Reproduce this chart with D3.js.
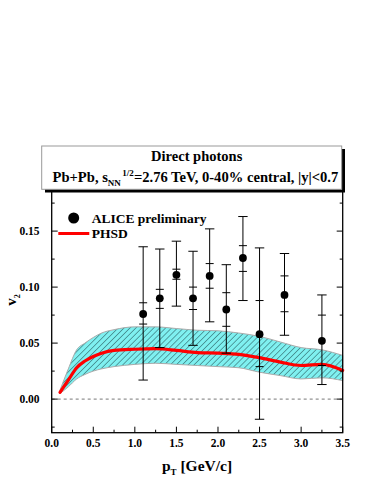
<!DOCTYPE html>
<html><head><meta charset="utf-8">
<script src="https://cdn.jsdelivr.net/npm/d3@7"></script>
<style>body{margin:0;background:#fff}svg{display:block}text{font-family:"Liberation Serif","Times New Roman",serif;font-weight:bold;fill:#000}</style>
</head><body><svg id="c" width="374" height="484"></svg>
<script>
// ALICE preliminary data
const pt = [1.1,1.3,1.5,1.7,1.9,2.1,2.3,2.5,2.8,3.25];
const v2 = [0.076,0.090,0.111,0.090,0.110,0.080,0.126,0.058,0.093,0.052];
const statHi = [0.136,0.134,0.141,0.132,0.152,0.120,0.163,0.135,0.130,0.093];
const statLo = [0.017,0.046,0.083,0.048,0.069,0.041,0.088,-0.018,0.057,0.013];
const sysHi = [0.086,0.098,0.116,0.100,0.121,0.095,0.137,0.088,0.110,0.075];
const sysLo = [0.067,0.081,0.107,0.080,0.099,0.065,0.114,0.029,0.078,0.030];
// PHSD model
const phsdPt = [0.1,0.2,0.3,0.4,0.5,0.6,0.75,1.0,1.25,1.5,1.75,2.0,2.25,2.5,2.75,3.0,3.25,3.5];
const phsdV2 = [0.006,0.017,0.028,0.034,0.038,0.041,0.0435,0.0445,0.045,0.0435,0.0415,0.041,0.040,0.037,0.033,0.030,0.031,0.0256];
const phsdUp = [0.008,0.027,0.044,0.050,0.055,0.059,0.062,0.0645,0.0645,0.063,0.0615,0.061,0.059,0.056,0.051,0.046,0.044,0.039];
const phsdLo = [0.005,0.011,0.018,0.022,0.025,0.027,0.029,0.031,0.032,0.031,0.030,0.029,0.028,0.024,0.021,0.018,0.019,0.0165];
// ticks
const xTicks = [0.0,0.5,1.0,1.5,2.0,2.5,3.0,3.5];
const xMinor = [0.25,0.75,1.25,1.75,2.25,2.75,3.25];
const yTicks = [0.00,0.05,0.10,0.15];
const yMinor = [-0.025,0.025,0.075,0.125,0.175];

const svg = d3.select("#c");
const L = 51.7, R = 342.7, B = 432.7;
const x = d3.scaleLinear().domain([0,3.5]).range([L,R]);
const y = d3.scaleLinear().domain([-0.03,0.2]).range([B, B-0.23*1120]);
const T = y(0.2);

// hatch pattern
const defs = svg.append("defs");
const S = 4.2;
const pat = defs.append("pattern").attr("id","hatch").attr("patternUnits","userSpaceOnUse")
  .attr("width",S).attr("height",S).attr("patternTransform","rotate(45)");
pat.append("rect").attr("width",S).attr("height",S).attr("fill","#7ff0f0");
pat.append("line").attr("x1",0.4).attr("y1",0).attr("x2",0.4).attr("y2",S)
  .attr("stroke","#3a7a7c").attr("stroke-width",0.7);

const idx = d3.range(phsdPt.length);
const curve = d3.curveMonotoneX;
svg.append("path").datum(idx)
  .attr("d", d3.area().x(i=>x(phsdPt[i])).y0(i=>y(phsdLo[i])).y1(i=>y(phsdUp[i])).curve(curve))
  .attr("fill","url(#hatch)").attr("stroke","#aaa").attr("stroke-width",1);

// zero dashed line
svg.append("line").attr("x1",L).attr("x2",R).attr("y1",y(0)).attr("y2",y(0))
  .attr("stroke","#777").attr("stroke-width",1).attr("stroke-dasharray","3,3");

// PHSD line
svg.append("path").datum(idx)
  .attr("d", d3.line().x(i=>x(phsdPt[i])).y(i=>y(phsdV2[i])).curve(curve))
  .attr("fill","none").attr("stroke","#ff0000").attr("stroke-width",3.2).attr("stroke-linecap","round");

// error bars
const g = svg.append("g").attr("stroke","#000").attr("stroke-width",1);
pt.forEach((p,i)=>{
  const cx = x(p);
  g.append("line").attr("x1",cx).attr("x2",cx).attr("y1",y(statHi[i])).attr("y2",y(statLo[i]));
  [statHi[i],statLo[i]].forEach(v=>g.append("line").attr("x1",cx-4.7).attr("x2",cx+4.7).attr("y1",y(v)).attr("y2",y(v)));
  [sysHi[i],sysLo[i]].forEach(v=>g.append("line").attr("x1",cx-4).attr("x2",cx+4).attr("y1",y(v)).attr("y2",y(v)));
});
svg.append("g").selectAll("circle").data(pt).join("circle")
  .attr("cx",d=>x(d)).attr("cy",(d,i)=>y(v2[i])).attr("r",3.9).attr("fill","#000");

// frame
svg.append("rect").attr("x",L).attr("y",T).attr("width",R-L).attr("height",B-T)
  .attr("fill","none").attr("stroke","#000").attr("stroke-width",1.3);
const tk = svg.append("g").attr("stroke","#000").attr("stroke-width",1);
xTicks.forEach(v=>{tk.append("line").attr("x1",x(v)).attr("x2",x(v)).attr("y1",B).attr("y2",B-6);});
xMinor.forEach(v=>{tk.append("line").attr("x1",x(v)).attr("x2",x(v)).attr("y1",B).attr("y2",B-3);});
yTicks.forEach(v=>{tk.append("line").attr("x1",L).attr("x2",L+6).attr("y1",y(v)).attr("y2",y(v));
  tk.append("line").attr("x1",R).attr("x2",R-6).attr("y1",y(v)).attr("y2",y(v));});
yMinor.forEach(v=>{tk.append("line").attr("x1",L).attr("x2",L+3).attr("y1",y(v)).attr("y2",y(v));
  tk.append("line").attr("x1",R).attr("x2",R-3).attr("y1",y(v)).attr("y2",y(v));});

// tick labels
svg.append("g").selectAll("text").data(xTicks).join("text")
  .attr("x",d=>x(d)).attr("y",446.5).attr("text-anchor","middle").attr("font-size",11.5)
  .text(d=>d.toFixed(1));
svg.append("g").selectAll("text").data(yTicks).join("text")
  .attr("x",39.5).attr("y",d=>y(d)+4).attr("text-anchor","end").attr("font-size",11.5)
  .text(d=>d.toFixed(2));

// axis titles
const xl = svg.append("text").attr("x",197).attr("y",471).attr("text-anchor","middle").attr("font-size",15.5);
xl.append("tspan").text("p");
xl.append("tspan").attr("font-size",9).attr("dy",4).text("T");
xl.append("tspan").attr("dy",-4).text(" [GeV/c]");
const yl = svg.append("text").attr("transform","translate(16,300) rotate(-90)").attr("text-anchor","middle").attr("font-size",15);
yl.append("tspan").text("v");
yl.append("tspan").attr("font-size",8).attr("dy",4).text("2");

// legend
svg.append("circle").attr("cx",73.7).attr("cy",218).attr("r",5.5).attr("fill","#000");
svg.append("text").attr("x",91.7).attr("y",222.5).attr("font-size",13.5).text("ALICE preliminary");
svg.append("line").attr("x1",58.3).attr("x2",89.3).attr("y1",233.5).attr("y2",233.5).attr("stroke","#ff0000").attr("stroke-width",3);
svg.append("text").attr("x",91.7).attr("y",238).attr("font-size",13.5).text("PHSD");

// title box
svg.append("rect").attr("x",45).attr("y",149).attr("width",300).attr("height",43.5).attr("fill","#000");
svg.append("rect").attr("x",41.7).attr("y",146).attr("width",300).attr("height",43.3).attr("fill","#fff").attr("stroke","#999").attr("stroke-width",1);
svg.append("text").attr("x",196.7).attr("y",160.5).attr("text-anchor","middle").attr("font-size",14.5).text("Direct photons");
const t2 = svg.append("text").attr("x",52.5).attr("y",182).attr("font-size",14.6);
t2.append("tspan").text("Pb+Pb, s");
t2.append("tspan").attr("font-size",9).attr("dy",4).text("NN");
t2.append("tspan").attr("font-size",9).attr("dy",-10).attr("dx",1.5).text("1/2");
t2.append("tspan").attr("dy",6).text("=2.76 TeV, 0-40% central, |y|<0.7");
</script></body></html>
